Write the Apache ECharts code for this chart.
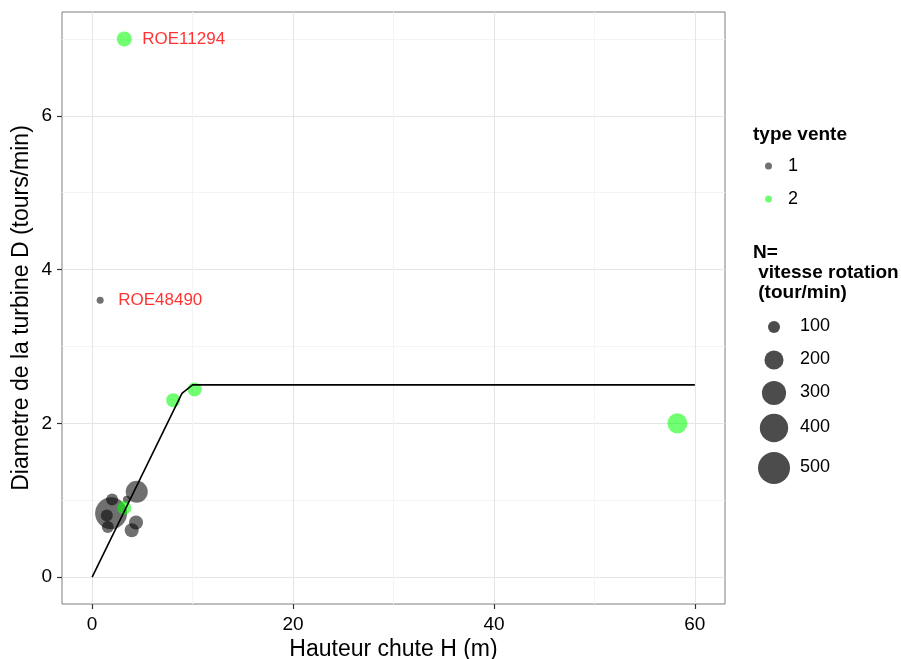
<!DOCTYPE html>
<html>
<head>
<meta charset="utf-8">
<script src="https://cdn.jsdelivr.net/npm/echarts@6/dist/echarts.min.js"></script>
<style>html,body{margin:0;padding:0;background:#fff}#c{width:901px;height:659px}</style>
</head>
<body>
<div id="c"></div>
<script>
// ---- data ----
// type vente 1 : [H (m), D, N (tour/min)]
var type1H = [0.8, 1.89, 1.46, 1.56, 1.99, 3.44, 4.44, 4.37, 3.94];
var type1D = [3.6, 0.83, 0.80, 0.65, 1.01, 1.01, 1.11, 0.71, 0.61];
var type1N = [57, 500, 100, 100, 100, 60, 255, 124, 124];
// type vente 2
var type2H = [3.2, 3.2, 8.07, 10.2, 58.26];
var type2D = [7.0, 0.9, 2.30, 2.44, 2.0];
var type2N = [137, 124, 125, 125, 216];
// reference curve
var curveH = [0, 8.94, 10.0, 60];
var curveD = [0, 2.39, 2.5, 2.5];
// labelled points
var labelNames = ['ROE11294', 'ROE48490'];
var labelH = [3.2, 0.8];
var labelD = [7.0, 3.6];
// axis ticks
var xMajor = [0, 20, 40, 60];
var xMinor = [10, 30, 50];
var yMajor = [0, 2, 4, 6];
var yMinor = [1, 3, 5, 7];
// legends
var typeNames = ['1', '2'];
var sizeLegend = [100, 200, 300, 400, 500];

var colDark = 'rgba(0,0,0,0.7)';
var colGreen = 'rgba(0,255,0,0.7)';
function sizeFn(n) { return Math.sqrt(Math.max(9, -76 + 2.2 * n)); }
function zip3(a, b, c) { return a.map(function (v, i) { return [v, b[i], c[i]]; }); }

var FONT = '"Liberation Sans", Arial, sans-serif';
var chart = echarts.init(document.getElementById('c'), null, { renderer: 'canvas' });

var grid = { left: 62, top: 12, right: 176, bottom: 55, show: true, borderColor: '#7f7f7f', borderWidth: 1, backgroundColor: 'transparent', outerBoundsMode: 'none', containLabel: false };

var graphics = [
  { type: 'text', left: 753, top: 125, style: { text: 'type vente', font: 'bold 19px ' + FONT, fill: '#000' } },
  { type: 'text', left: 753, top: 243, style: { text: 'N=\n vitesse rotation\n (tour/min)', font: 'bold 19px ' + FONT, lineHeight: 20, fill: '#000' } }
];
var sizeCenters = [327, 360, 393, 428, 468];
sizeLegend.forEach(function (v, i) {
  graphics.push({ type: 'circle', shape: { cx: 774, cy: sizeCenters[i], r: sizeFn(v) / 2 }, style: { fill: colDark } });
  graphics.push({ type: 'text', left: 800, top: sizeCenters[i] - 10, style: { text: String(v), font: '18px ' + FONT, fill: '#000' } });
});

chart.setOption({
  animation: false,
  backgroundColor: '#fff',
  grid: grid,
  legend: {
    data: typeNames.map(function (n) { return { name: n, icon: 'circle' }; }),
    orient: 'vertical', left: 760, top: 152, padding: 5,
    itemWidth: 7, itemHeight: 7, itemGap: 15,
    textStyle: { fontFamily: FONT, fontSize: 18, color: '#000', lineHeight: 18, padding: [0, 0, 0, 11] },
    selectedMode: false
  },
  xAxis: [{
    type: 'value', min: -3, max: 63,
    name: 'Hauteur chute H (m)', nameLocation: 'middle', nameGap: 34, nameMoveOverlap: false,
    nameTextStyle: { fontFamily: FONT, fontSize: 23, color: '#000' },
    axisLine: { show: false, onZero: false },
    axisTick: { show: true, length: 5, inside: false, customValues: xMajor, lineStyle: { color: '#333', width: 1.2 } },
    axisLabel: { customValues: xMajor, fontFamily: FONT, fontSize: 19, color: '#000', margin: 11 },
    splitLine: { show: true, lineStyle: { color: '#e5e5e5', width: 1 } }
  }, {
    type: 'value', min: -3, max: 63, position: 'bottom',
    axisLine: { show: false, onZero: false }, axisLabel: { show: false },
    axisTick: { show: false, customValues: xMinor },
    splitLine: { show: true, lineStyle: { color: '#f4f4f4', width: 1 } }
  }],
  yAxis: [{
    type: 'value', min: -0.35, max: 7.35,
    name: 'Diametre de la turbine D (tours/min)', nameLocation: 'middle', nameGap: 29, nameMoveOverlap: false,
    nameTextStyle: { fontFamily: FONT, fontSize: 23, color: '#000' },
    axisLine: { show: false, onZero: false },
    axisTick: { show: true, length: 5, inside: false, customValues: yMajor, lineStyle: { color: '#333', width: 1.2 } },
    axisLabel: { customValues: yMajor, fontFamily: FONT, fontSize: 19, color: '#000', margin: 10 },
    splitLine: { show: true, lineStyle: { color: '#e5e5e5', width: 1 } }
  }, {
    type: 'value', min: -0.35, max: 7.35, position: 'left',
    axisLine: { show: false, onZero: false }, axisLabel: { show: false },
    axisTick: { show: false, customValues: yMinor },
    splitLine: { show: true, lineStyle: { color: '#f4f4f4', width: 1 } }
  }],
  graphic: graphics,
  series: [
    {
      name: '1', type: 'scatter', data: zip3(type1H, type1D, type1N),
      symbol: 'circle', symbolSize: function (v) { return sizeFn(v[2]); },
      itemStyle: { color: colDark }, z: 3
    },
    {
      name: '2', type: 'scatter', data: zip3(type2H, type2D, type2N),
      symbol: 'circle', symbolSize: function (v) { return sizeFn(v[2]); },
      itemStyle: { color: colGreen }, z: 4
    },
    {
      name: 'courbe', type: 'line', data: curveH.map(function (h, i) { return [h, curveD[i]]; }),
      symbol: 'none', lineStyle: { color: '#000', width: 1.6 }, z: 5, silent: true
    },
    {
      name: 'labels', type: 'scatter', symbolSize: 0, z: 6,
      data: labelNames.map(function (n, i) { return { name: n, value: [labelH[i], labelD[i]] }; }),
      label: { show: true, position: 'right', distance: 18, formatter: '{b}', fontFamily: FONT, fontSize: 17, color: '#ff0000' }
    }
  ]
});
</script>
</body>
</html>
